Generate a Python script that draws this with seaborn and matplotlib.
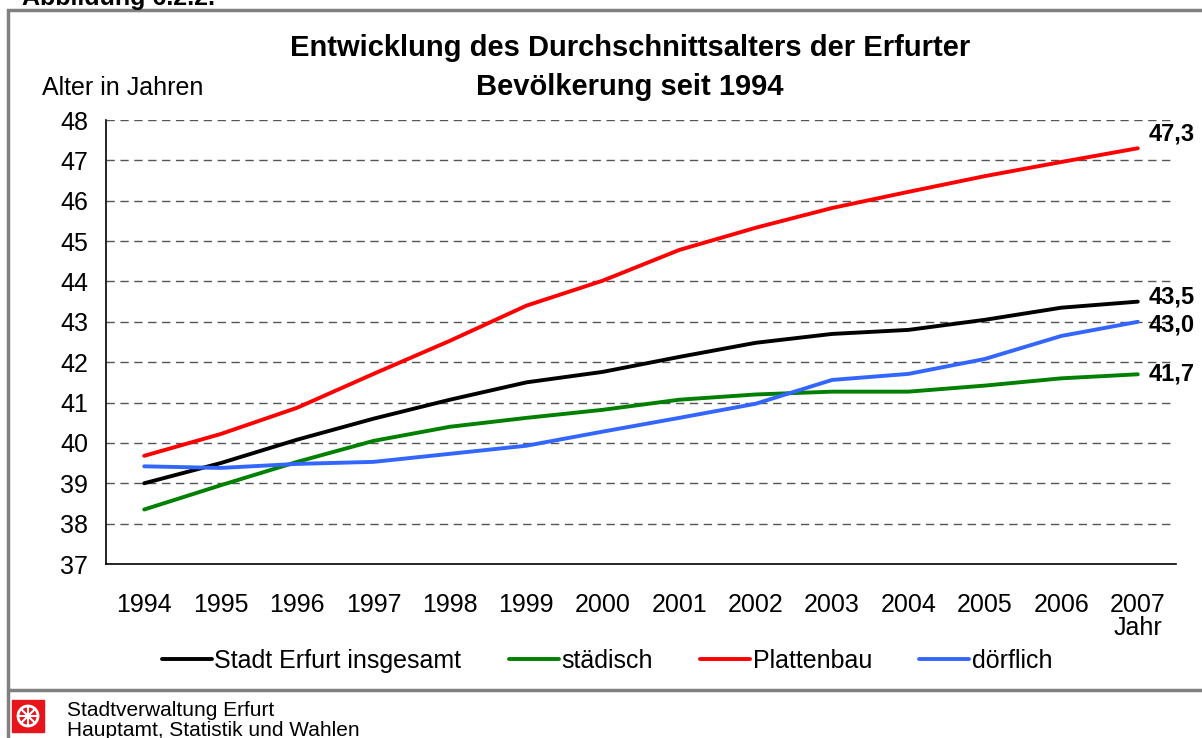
import numpy as np
import pandas as pd
import matplotlib.pyplot as plt
import seaborn as sns
from matplotlib.patches import Rectangle, Circle
from matplotlib.lines import Line2D

years = list(range(1994, 2008))
stadt = [39.0, 39.5, 40.08, 40.6, 41.07, 41.5, 41.76, 42.13, 42.48, 42.7, 42.8, 43.05, 43.35, 43.5]
staedisch = [38.35, 38.95, 39.53, 40.05, 40.4, 40.62, 40.82, 41.07, 41.2, 41.27, 41.27, 41.42, 41.6, 41.7]
platten = [39.68, 40.22, 40.87, 41.71, 42.53, 43.4, 44.02, 44.78, 45.33, 45.82, 46.22, 46.61, 46.96, 47.3]
doerflich = [39.42, 39.38, 39.48, 39.53, 39.73, 39.93, 40.28, 40.62, 40.97, 41.56, 41.71, 42.08, 42.65, 43.0]

series_names = ['Stadt Erfurt insgesamt', 'städisch', 'Plattenbau', 'dörflich']
series_colors = ['#000000', '#008000', '#FF0000', '#3366FF']

df = pd.DataFrame({
    'Jahr': years * 4,
    'Alter': stadt + staedisch + platten + doerflich,
    'Gebiet': sum([[n] * len(years) for n in series_names], []),
})

sns.set_style('white')
plt.rcParams['font.family'] = ['Liberation Sans', 'DejaVu Sans']
plt.rcParams['text.color'] = 'black'
plt.rcParams['xtick.color'] = 'black'
plt.rcParams['ytick.color'] = 'black'

fig = plt.figure(figsize=(12.02, 7.38), dpi=100)
ax = fig.add_axes([106 / 1202, 1 - 564 / 738, (1176 - 106) / 1202, (564 - 120) / 738])

sns.lineplot(data=df, x='Jahr', y='Alter', hue='Gebiet', hue_order=series_names,
             palette=series_colors, linewidth=2.8, ax=ax, legend=False)

ax.set_xlim(1993.5, 2007.5)
ax.set_ylim(37, 48)
ax.set_yticks(range(37, 49))
ax.set_xticks(years)
ax.set_xticks(np.arange(1993.5, 2008, 1), minor=True)
ax.tick_params(axis='x', which='major', length=0, pad=21, labelsize=18)
ax.tick_params(axis='x', which='minor', length=6.5, width=1, direction='out', color='black')
ax.tick_params(axis='y', length=10, width=1, direction='inout', color='black', labelsize=18, pad=8)
ax.set_xlabel('')
ax.set_ylabel('')
for y in range(38, 49):
    ax.axhline(y, color='#555555', linewidth=1, linestyle=(0, (6, 4)), zorder=0)
for s in ['top', 'right']:
    ax.spines[s].set_visible(False)
for s in ['left', 'bottom']:
    ax.spines[s].set_color('black')
    ax.spines[s].set_linewidth(1.2)

# end labels
label_shift = [3, 0, 10, -2]
for vals, dy in zip([stadt, staedisch, platten, doerflich], label_shift):
    ax.annotate(f'{vals[-1]:.1f}'.replace('.', ','), xy=(years[-1], vals[-1]),
                xytext=(8, dy), textcoords='offset points',
                fontsize=17, fontweight='bold', va='center', ha='left')

fig.text(0.524, 1 - 48 / 738, 'Entwicklung des Durchschnittsalters der Erfurter', ha='center', va='center',
         fontsize=21, fontweight='bold')
fig.text(0.524, 1 - 87 / 738, 'Bevölkerung seit 1994', ha='center', va='center',
         fontsize=21, fontweight='bold')
fig.text(42 / 1202, 1 - 88 / 738, 'Alter in Jahren', ha='left', va='center', fontsize=18)
fig.text(1162 / 1202, 1 - 628 / 738, 'Jahr', ha='right', va='center', fontsize=18)
fig.text(22 / 1202, 1 + 2 / 738, 'Abbildung 6.2.2.', ha='left', va='center', fontsize=18, fontweight='bold')

handles = [Line2D([0], [0], color=c, linewidth=2.8) for c in series_colors]
fig.legend(handles, series_names, loc='center', bbox_to_anchor=(0.505, 1 - 661 / 738), ncol=4,
           frameon=False, fontsize=18, handlelength=2.0, handletextpad=0.1, columnspacing=1.9)

# frame and footer
fig.add_artist(Rectangle((8 / 1202, 1 - 690 / 738), 1.0, (690 - 10) / 738, transform=fig.transFigure,
                         fill=False, edgecolor='#808080', linewidth=2.5))
fig.add_artist(Line2D([8 / 1202, 8 / 1202], [0, 1 - 690 / 738], transform=fig.transFigure,
                      color='#808080', linewidth=2.5))
lx, ly, lw, lh = 12 / 1202, 1 - 732 / 738, 32 / 1202, 32 / 738
fig.add_artist(Rectangle((lx, ly), lw, lh, transform=fig.transFigure, color='#E8141C'))
cx, cy = lx + lw / 2, ly + lh / 2
fig.add_artist(Circle((cx * 1202, cy * 738), 10, transform=None, fill=False, edgecolor='white', linewidth=2))
for a in np.arange(0, np.pi, np.pi / 4):
    fig.add_artist(Line2D([cx - 9 * np.cos(a) / 1202, cx + 9 * np.cos(a) / 1202],
                          [cy - 9 * np.sin(a) / 738, cy + 9 * np.sin(a) / 738],
                          transform=fig.transFigure, color='white', linewidth=1.5))
fig.text(67 / 1202, 1 - 710 / 738, 'Stadtverwaltung Erfurt', ha='left', va='center', fontsize=15)
fig.text(67 / 1202, 1 - 731 / 738, 'Hauptamt, Statistik und Wahlen', ha='left', va='center', fontsize=15)

fig.savefig('out.png', dpi=100)
